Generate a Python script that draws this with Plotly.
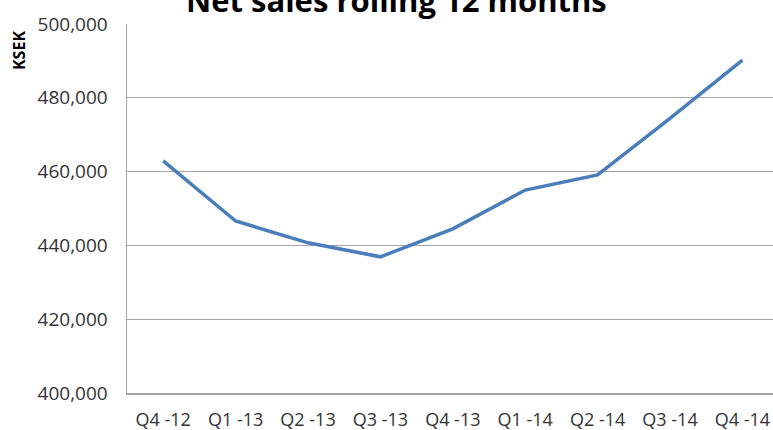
import plotly.graph_objects as go

quarters = ["Q4 -12", "Q1 -13", "Q2 -13", "Q3 -13", "Q4 -13", "Q1 -14", "Q2 -14", "Q3 -14", "Q4 -14"]
net_sales = [462900, 446600, 440700, 436900, 444500, 455000, 459100, 474400, 490200]
y_ticks = [400000, 420000, 440000, 460000, 480000, 500000]
y_tick_labels = ["400,000", "420,000", "440,000", "460,000", "480,000", "500,000"]

W, H = 773, 430
L, T, B = 127, 24, 37
FONT = "Open Sans"

fig = go.Figure()
fig.add_trace(go.Scatter(
    x=list(range(len(quarters))), y=net_sales, mode="lines",
    line=dict(color="#4a7ebb", width=3.5), hoverinfo="skip", cliponaxis=False,
))

fig.update_layout(
    width=W, height=H,
    margin=dict(l=L, r=0, t=T, b=B, pad=0, autoexpand=False),
    paper_bgcolor="white", plot_bgcolor="white",
    showlegend=False,
    font=dict(family=FONT, size=18, color="#404040"),
    xaxis=dict(
        range=[-0.5, -0.5 + (W - L) / 72.4],
        tickmode="array", tickvals=list(range(len(quarters))), ticktext=quarters,
        showgrid=False, zeroline=False, automargin=False,
        showline=True, linecolor="#a6a6a6", linewidth=1.5,
        ticks="", ticklabelstandoff=10,
        tickfont=dict(family=FONT, size=18, color="#333333"),
    ),
    yaxis=dict(
        range=[400000, 500000],
        tickmode="array", tickvals=y_ticks, ticktext=y_tick_labels,
        showgrid=True, gridcolor="#a6a6a6", gridwidth=1.2,
        zeroline=False, automargin=False,
        showline=True, linecolor="#a6a6a6", linewidth=1.5,
        ticks="", ticklabelstandoff=14,
        tickfont=dict(family=FONT, size=19, color="#333333"),
    ),
    annotations=[
        dict(text="<b>Net sales rolling 12 months</b>", xref="paper", yref="paper",
             x=(396 - L) / (W - L), y=1, xanchor="center", yanchor="bottom",
             yshift=1, showarrow=False,
             font=dict(family=FONT, size=31, color="black")),
        dict(text="<b>KSEK</b>", xref="paper", yref="paper",
             x=0, y=1, xanchor="center", yanchor="middle",
             xshift=19 - L, yshift=-(51 - T), textangle=-90, showarrow=False,
             font=dict(family=FONT, size=16, color="black")),
    ],
)

fig.write_html(
    "out.html",
    config={"displayModeBar": False, "staticPlot": True},
    post_script="document.body.style.margin='0';document.body.style.overflow='hidden';",
)
